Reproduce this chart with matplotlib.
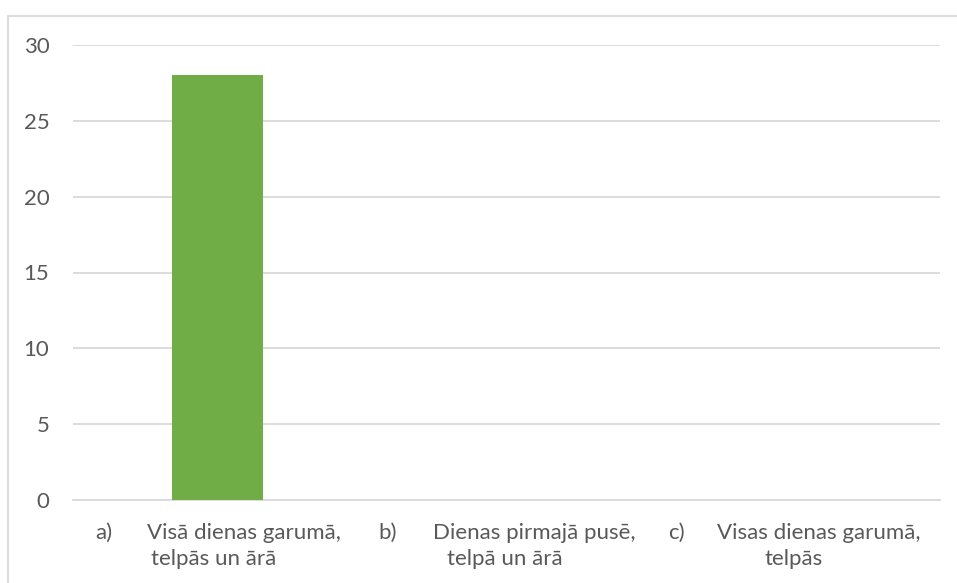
import matplotlib
matplotlib.use("Agg")
import matplotlib.pyplot as plt
from matplotlib.patches import Rectangle

markers = ["a)", "b)", "c)"]
label_line1 = ["Visā dienas garumā,", "Dienas pirmajā pusē,", "Visas dienas garumā,"]
label_line2 = ["telpās un ārā", "telpā un ārā", "telpās"]
values = [28, 0, 0]
yticks = [0, 5, 10, 15, 20, 25, 30]

W, H = 957, 583
fig = plt.figure(figsize=(W / 100, H / 100), dpi=100)
plt.rcParams['font.family'] = ['Lato', 'DejaVu Sans']
FS = 16
TXT = '#595959'

# chart frame
fig.patches.append(Rectangle((8 / W, -0.05), 1.1, (H - 16) / H + 0.05,
                             transform=fig.transFigure, fill=False,
                             edgecolor='#d9d9d9', linewidth=1.3))

left, right, top, bottom = 73, 940, 45, 500
ax = fig.add_axes([left / W, 1 - bottom / H, (right - left) / W, (bottom - top) / H])

x = list(range(len(values)))
ax.bar(x, values, width=0.315, color='#70ad47', zorder=3)
ax.set_xlim(-0.5, len(values) - 0.5)
ax.set_ylim(0, 30)
ax.set_yticks(yticks)
ax.set_yticklabels([str(v) for v in yticks], fontsize=FS, color=TXT)
ax.tick_params(axis='y', length=0, pad=17)
ax.set_xticks([])
ax.grid(axis='y', color='#d9d9d9', linewidth=1.3, zorder=0)
for s in ['top', 'right', 'left']:
    ax.spines[s].set_visible(False)
ax.spines['bottom'].set_color('#d9d9d9')
ax.spines['bottom'].set_linewidth(1.3)

# layout: pixel centres of the label pieces
marker_px = [103.5, 387.5, 676.5]
line1_px = [243.5, 534.5, 819]
line2_px = [214, 505, 794]

for i in range(len(values)):
    ax.text(marker_px[i] / W, 1 - 533 / H, markers[i], transform=fig.transFigure,
            ha='center', va='center', fontsize=FS, color=TXT)
    ax.text(line1_px[i] / W, 1 - 533 / H, label_line1[i], transform=fig.transFigure,
            ha='center', va='center', fontsize=FS, color=TXT)
    ax.text(line2_px[i] / W, 1 - 559 / H, label_line2[i], transform=fig.transFigure,
            ha='center', va='center', fontsize=FS, color=TXT)

fig.savefig("out.png", dpi=100, facecolor='white')
